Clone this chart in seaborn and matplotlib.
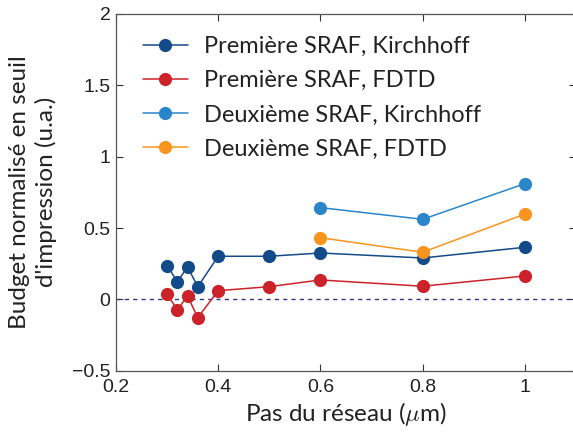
import matplotlib
matplotlib.use("Agg")
import matplotlib.pyplot as plt
import seaborn as sns
import pandas as pd

sns.set_style("ticks")
plt.rcParams['font.family'] = ['Liberation Sans', 'DejaVu Sans']
plt.rcParams['mathtext.fontset'] = 'cm'

x_first = [0.30, 0.32, 0.34, 0.36, 0.40, 0.50, 0.60, 0.80, 1.0]
y_first_kirchhoff = [0.236, 0.124, 0.227, 0.089, 0.302, 0.302, 0.325, 0.290, 0.365]
y_first_fdtd = [0.038, -0.074, 0.024, -0.128, 0.061, 0.089, 0.136, 0.092, 0.164]
x_second = [0.60, 0.80, 1.0]
y_second_kirchhoff = [0.643, 0.561, 0.811]
y_second_fdtd = [0.432, 0.330, 0.598]

series_names = ["Première SRAF, Kirchhoff", "Première SRAF, FDTD",
                "Deuxième SRAF, Kirchhoff", "Deuxième SRAF, FDTD"]
colors = ["#134a8a", "#cc2229", "#2b86c9", "#f7941d"]

frames = []
for name, xs, ys in zip(series_names,
                        [x_first, x_first, x_second, x_second],
                        [y_first_kirchhoff, y_first_fdtd, y_second_kirchhoff, y_second_fdtd]):
    frames.append(pd.DataFrame({"x": xs, "y": ys, "serie": name}))
df = pd.concat(frames, ignore_index=True)

fig = plt.figure(figsize=(5.73, 4.34), dpi=100)
ax = fig.add_axes([116/573, 1-370.7/434, (576-116)/573, (370.7-14)/434])

ax.axhline(0, color="#2b3a87", lw=1.0, ls=(0, (3, 3)), zorder=1)

sns.lineplot(data=df, x="x", y="y", hue="serie", hue_order=series_names,
             palette=colors, marker="o", markersize=9.5, markeredgewidth=0,
             lw=1.1, ax=ax, sort=False, estimator=None, zorder=3)

ax.set_xlim(0.2, 1.1)
ax.set_ylim(-0.5, 2)
ax.set_xticks([0.2, 0.4, 0.6, 0.8, 1.0])
ax.set_xticklabels(["0.2", "0.4", "0.6", "0.8", "1"])
ax.set_yticks([-0.5, 0, 0.5, 1, 1.5, 2])
ax.set_yticklabels(["\u22120.5", "0", "0.5", "1", "1.5", "2"])
ax.tick_params(direction="in", top=True, right=True, labelsize=14, length=5,
               width=0.8, color="#333333", labelcolor="#222222")
ax.tick_params(axis="x", pad=6)
ax.tick_params(axis="y", pad=4)
for s in ax.spines.values():
    s.set_color("#555555")
    s.set_linewidth(0.9)

lab_font = ['Lato', 'DejaVu Sans']
ax.set_xlabel(r"Pas du réseau ($\mu$m)", fontsize=17.5, family=lab_font, color="#222222", labelpad=3)
ax.set_ylabel("Budget normalisé en seuil\nd'impression (u.a.)", fontsize=17.5, family=lab_font,
              color="#222222", labelpad=11, linespacing=1.25)

leg = ax.legend(loc="upper left", frameon=False, prop={'family': lab_font, 'size': 17},
                handlelength=1.9, handletextpad=0.7, labelspacing=0.56,
                bbox_to_anchor=(0.012, 0.998))
for t in leg.get_texts():
    t.set_color("#222222")

fig.savefig("out.png", dpi=100)
